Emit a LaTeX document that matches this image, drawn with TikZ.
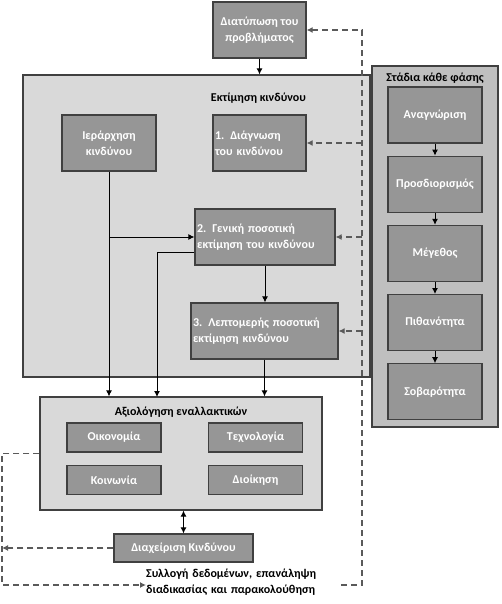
\documentclass[tikz,border=0pt]{standalone}
\usepackage{fontspec}
\setmainfont{Carlito}
\usetikzlibrary{shapes, arrows, arrows.meta, positioning}
\definecolor{boxgray}{RGB}{150,150,150}
\definecolor{panelgray}{RGB}{217,217,217}
\definecolor{stagegray}{RGB}{191,191,191}
\definecolor{edgegray}{RGB}{64,64,64}
\definecolor{dashgray}{RGB}{90,90,90}

\begin{document}
\begin{tikzpicture}[x=1pt, y=-1pt, >={Latex[length=6pt,width=6pt]}, font=\bfseries\fontsize{12}{16}\selectfont]

\tikzstyle{panel} = [draw=edgegray, fill=panelgray, line width=1.2pt, inner sep=0pt]
\tikzstyle{block} = [draw=edgegray, fill=boxgray, text=white, line width=1.2pt, minimum height=56pt, align=center, inner sep=2pt]
\tikzstyle{small} = [block, minimum height=29pt, minimum width=94pt]
\tikzstyle{link} = [->, line width=1pt]
\tikzstyle{back} = [->, dash pattern=on 6pt off 4pt, line width=1.4pt, draw=dashgray]

\useasboundingbox (0,0) rectangle (501,604);

%Panels
\node [panel, minimum width=347pt, minimum height=302pt] at (196.5,226) (est) {};
\node [below=15pt of est.north, xshift=62pt] (esttitle) {Εκτίμηση κινδύνου};
\node [panel, fill=stagegray, minimum width=126pt, minimum height=361pt] at (435,246.5) (stages) {};
\node [below=4pt of stages.north] (stagetitle) {Στάδια κάθε φάσης};
\node [panel, minimum width=282pt, minimum height=113pt] at (181,453.5) (eval) {};
\node [below=7pt of eval.north] (evaltitle) {Αξιολόγηση εναλλακτικών};

%Creating Blocks
\node [block, minimum width=93pt] at (259.5,30) (prob) {Διατύπωση του\\προβλήματος};
\node [block, minimum width=94pt] at (109,143) (hier) {Ιεράρχηση\\κινδύνου};
\node [block, minimum width=93pt, text width=89pt, align=left] at (259.5,143) (diag) {1.\kern2pt\ Διάγνωση\\του κινδύνου};
\node [block, minimum width=140pt, text width=136pt, align=left] at (265,237) (gen) {2.\kern2pt\ Γενική ποσοτική\\εκτίμηση του κινδύνου};
\node [block, minimum width=147pt, text width=143pt, align=left] at (264.5,331) (det) {3. Λεπτομερής ποσοτική\\εκτίμηση κινδύνου};

\node [small] at (114,437.5) (econ) {Οικονομία};
\node [small] at (255.5,437.5) (tech) {Τεχνολογία};
\node [small] at (114,480) (soc) {Κοινωνία};
\node [small] at (255.5,480) (admin) {Διοίκηση};
\node [block, minimum width=139pt, minimum height=28pt] at (183.5,548) (mgmt) {Διαχείριση Κινδύνου};
\node [anchor=west, text width=195pt, align=left, inner sep=0pt] at (146,582) (data) {Συλλογή δεδομένων, επανάληψη\\διαδικασίας και παρακολούθηση};

\node [block, minimum width=94pt] at (435,115) (s1) {Αναγνώριση};
\node [block, minimum width=94pt, below=12pt of s1] (s2) {Προσδιορισμός};
\node [block, minimum width=94pt, below=12pt of s2] (s3) {Μέγεθος};
\node [block, minimum width=94pt, below=12pt of s3] (s4) {Πιθανότητα};
\node [block, minimum width=94pt, below=12pt of s4] (s5) {Σοβαρότητα};

\coordinate (evin) at (157,397);
\coordinate (bl) at (2,585);
\coordinate (br) at (362,585);

%Connecting Blocks
\draw[link] (prob) -- (prob |- est.north);
\draw[link] (hier) -- (hier |- eval.north);
\draw[link] (hier |- gen.west) -- (gen.west);
\draw[link] ([yshift=-15pt]gen.west) -| (evin);
\draw[link] (gen.south) -- (gen.south |- det.north);
\draw[link] (det.south) -- (det.south |- eval.north);
\draw[link, <->] (mgmt.north |- eval.south) -- (mgmt.north);
\foreach \a/\b in {s1/s2, s2/s3, s3/s4, s4/s5}
  \draw[link] (\a) -- (\b);

%Feedback
\draw[back] (eval.west) -| (bl) -- (bl -| data.west);
\draw[back] (mgmt.west) -- (bl |- mgmt.west);
\draw[back] (data.east |- br) -- (br) |- (prob.east);
\foreach \n in {diag, gen, det}
  \draw[back] (br |- \n.east) -- (\n.east);
\end{tikzpicture}
\end{document}
